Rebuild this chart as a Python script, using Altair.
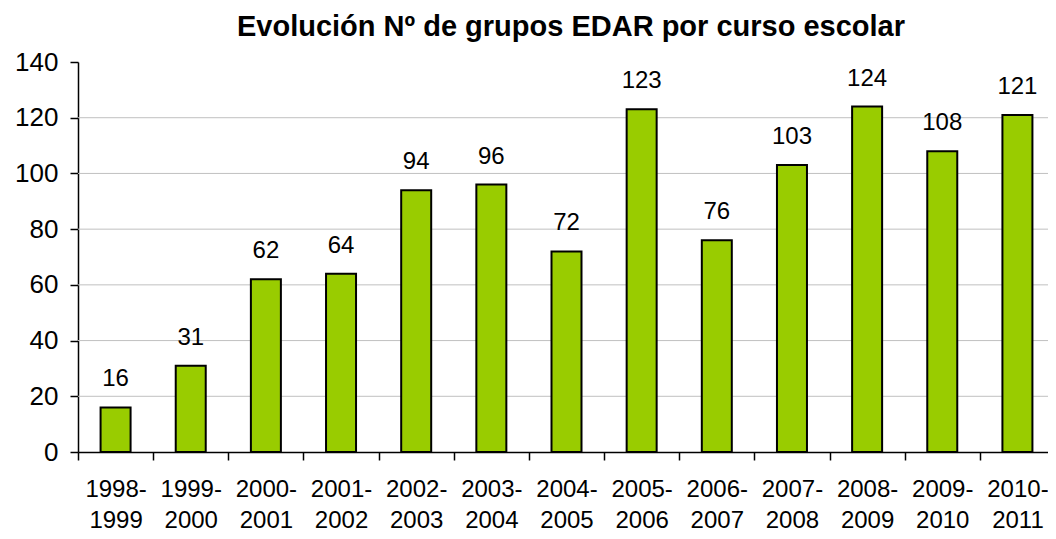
import altair as alt
import pandas as pd

cursos = ["1998-1999", "1999-2000", "2000-2001", "2001-2002", "2002-2003",
          "2003-2004", "2004-2005", "2005-2006", "2006-2007", "2007-2008",
          "2008-2009", "2009-2010", "2010-2011"]
grupos = [16, 31, 62, 64, 94, 96, 72, 123, 76, 103, 124, 108, 121]
grid_values = [20, 40, 60, 80, 100, 120]
y_ticks = [0, 20, 40, 60, 80, 100, 120, 140]

df = pd.DataFrame({"curso": cursos, "grupos": grupos})
gdf = pd.DataFrame({"v": grid_values})

FONT = "Liberation Sans"

xscale = alt.Scale(domain=cursos, range=[0, 977], paddingInner=0, paddingOuter=0)
yscale = alt.Scale(domain=[0, 140], nice=False)

yaxis = alt.Axis(values=y_ticks, grid=False, tickSize=8, tickColor="black",
                 domainColor="black", domainWidth=1.5, tickWidth=1.5,
                 labelFont=FONT, labelFontSize=26, labelColor="black",
                 labelPadding=12, title=None)

grid = alt.Chart(gdf).mark_rule(color="#c0c0c0", strokeWidth=1).encode(
    y=alt.Y("v:Q", scale=yscale, axis=yaxis, title=None)
)

bars = alt.Chart(df).mark_bar(size=30, color="#99CC00", stroke="black", strokeWidth=2).encode(
    x=alt.X("curso:N", scale=xscale, sort=cursos, title=None,
            axis=alt.Axis(labelAngle=0, tickBand="extent", tickSize=8, tickColor="black",
                          domainColor="black", domainWidth=1.5, tickWidth=1.5,
                          labelFont=FONT, labelFontSize=24, labelColor="black",
                          labelExpr="[slice(datum.label,0,5), slice(datum.label,5)]",
                          labelLineHeight=31, labelPadding=17, grid=False)),
    y=alt.Y("grupos:Q", scale=yscale, title=None, axis=yaxis)
)

labels = alt.Chart(df).mark_text(font=FONT, fontSize=24, color="black",
                                 baseline="alphabetic", dy=-21).encode(
    x=alt.X("curso:N", scale=xscale, sort=cursos),
    y=alt.Y("grupos:Q", scale=yscale),
    text="grupos:Q"
)

chart = alt.layer(grid, bars, labels).properties(
    width=970, height=390,
    autosize=alt.AutoSizeParams(type="none"),
    padding={"left": 70, "top": 54, "right": 0, "bottom": 79},
    title=alt.TitleParams("Evolución Nº de grupos EDAR por curso escolar",
                          font=FONT, fontSize=29, fontWeight="bold", color="black",
                          anchor="middle", offset=7, dx=8),
).configure_view(stroke=None)

chart.save("out.html", embed_options={"renderer": "svg", "actions": False})
